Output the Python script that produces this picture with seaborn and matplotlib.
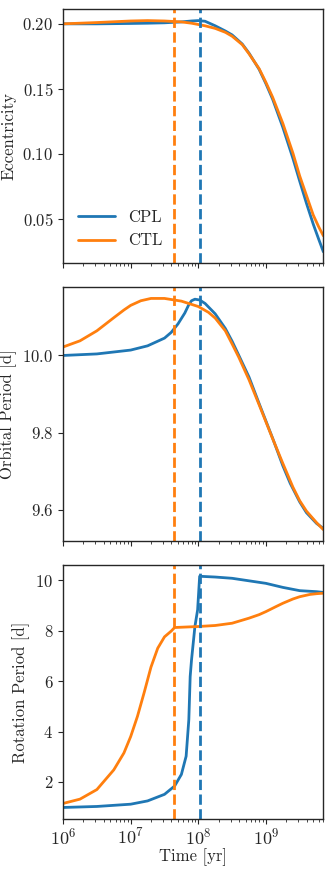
import numpy as np
import pandas as pd
import matplotlib
matplotlib.use("Agg")
import matplotlib.pyplot as plt
from matplotlib.ticker import MultipleLocator
import seaborn as sns

# ---- data (log10 of time in yr) ----
ecc_logt = [6.0, 6.5, 7.0, 7.25, 7.5, 7.75, 7.9, 8.0, 8.1, 8.25, 8.4, 8.5, 8.65,
            8.75, 8.9, 9.0, 9.1, 9.25, 9.4, 9.5, 9.6, 9.7, 9.78, 9.85]
ecc_cpl = [0.2000, 0.2000, 0.2003, 0.2005, 0.2008, 0.2015, 0.2022, 0.2025, 0.2020,
           0.1985, 0.1945, 0.1915, 0.1845, 0.1775, 0.1650, 0.1540, 0.1420, 0.1205,
           0.0965, 0.0790, 0.0620, 0.0460, 0.0345, 0.0247]
ecc_ctl = [0.2000, 0.2010, 0.2022, 0.2025, 0.2022, 0.2015, 0.2005, 0.1995, 0.1985,
           0.1965, 0.1935, 0.1905, 0.1840, 0.1770, 0.1655, 0.1550, 0.1435, 0.1235,
           0.1005, 0.0830, 0.0680, 0.0530, 0.0440, 0.0370]

porb_logt_cpl = [6.0, 6.5, 7.0, 7.25, 7.5, 7.6, 7.7, 7.8, 7.86, 7.9, 7.95, 8.02,
                 8.1, 8.25, 8.4, 8.5, 8.6, 8.75, 8.9, 9.0, 9.1, 9.17, 9.25, 9.36,
                 9.5, 9.6, 9.75, 9.85]
porb_cpl = [10.000, 10.004, 10.014, 10.025, 10.045, 10.060, 10.082, 10.110,
            10.132, 10.142, 10.146, 10.144, 10.135, 10.108, 10.070, 10.037,
            10.000, 9.944, 9.875, 9.830, 9.785, 9.752, 9.714, 9.668, 9.620,
            9.592, 9.564, 9.551]
porb_logt_ctl = [6.0, 6.25, 6.5, 6.75, 6.9, 7.0, 7.15, 7.3, 7.5, 7.75, 8.0, 8.15,
                 8.25, 8.4, 8.5, 8.6, 8.75, 8.9, 9.0, 9.1, 9.25, 9.4, 9.5, 9.6,
                 9.75, 9.85]
porb_ctl = [10.022, 10.038, 10.064, 10.098, 10.118, 10.130, 10.142, 10.148,
            10.148, 10.141, 10.127, 10.112, 10.097, 10.064, 10.030, 9.995,
            9.937, 9.872, 9.828, 9.784, 9.720, 9.658, 9.623, 9.596, 9.566, 9.548]

prot_logt_cpl = [6.0, 6.5, 7.0, 7.25, 7.5, 7.65, 7.75, 7.82, 7.86, 7.88, 7.9,
                 7.95, 7.99, 8.02, 8.25, 8.5, 8.75, 9.0, 9.25, 9.5, 9.75, 9.85]
prot_cpl = [0.99, 1.03, 1.12, 1.25, 1.51, 1.84, 2.30, 3.02, 4.47, 6.18, 6.84,
            8.16, 8.82, 10.15, 10.12, 10.07, 9.97, 9.87, 9.71, 9.58, 9.54, 9.51]
prot_logt_ctl = [6.0, 6.25, 6.5, 6.75, 6.9, 7.0, 7.1, 7.2, 7.3, 7.4, 7.5, 7.6,
                 7.65, 8.0, 8.25, 8.5, 8.75, 8.9, 9.0, 9.15, 9.25, 9.4, 9.5,
                 9.65, 9.75, 9.85]
prot_ctl = [1.15, 1.32, 1.70, 2.48, 3.15, 3.80, 4.60, 5.55, 6.55, 7.30, 7.75,
            7.98, 8.12, 8.16, 8.20, 8.29, 8.49, 8.63, 8.75, 8.95, 9.08, 9.25,
            9.34, 9.43, 9.46, 9.48]

t_lock_cpl = 1.05e8
t_lock_ctl = 4.4e7
models = ["CPL", "CTL"]
colors = {"CPL": "#1f77b4", "CTL": "#ff7f0e"}


def frame(logt_a, val_a, logt_b, val_b):
    a = pd.DataFrame({"t": 10.0 ** np.array(logt_a), "v": val_a, "model": "CPL"})
    b = pd.DataFrame({"t": 10.0 ** np.array(logt_b), "v": val_b, "model": "CTL"})
    return pd.concat([a, b], ignore_index=True)


sns.set_style("ticks")
plt.rcParams["font.family"] = ["cmr10", "DejaVu Serif"]
plt.rcParams["mathtext.fontset"] = "cm"
plt.rcParams["axes.formatter.use_mathtext"] = True
plt.rcParams["axes.unicode_minus"] = False
FS = 12

fig, axes = plt.subplots(3, 1, figsize=(3.32, 8.69), dpi=100, sharex=True)
fig.subplots_adjust(left=0.19, right=0.973, top=0.9896, bottom=0.0575, hspace=0.0925)

panels = [
    (frame(ecc_logt, ecc_cpl, ecc_logt, ecc_ctl), "Eccentricity", 0.05),
    (frame(porb_logt_cpl, porb_cpl, porb_logt_ctl, porb_ctl), "Orbital Period [d]", 0.2),
    (frame(prot_logt_cpl, prot_cpl, prot_logt_ctl, prot_ctl), "Rotation Period [d]", 2),
]

for i, (ax, (df, label, step)) in enumerate(zip(axes, panels)):
    sns.lineplot(data=df, x="t", y="v", hue="model", hue_order=models,
                 palette=colors, lw=2, ax=ax, legend=(i == 0), estimator=None,
                 sort=False)
    ax.axvline(t_lock_ctl, color=colors["CTL"], ls="--", lw=2)
    ax.axvline(t_lock_cpl, color=colors["CPL"], ls="--", lw=2)
    ax.set_xscale("log")
    ax.set_xlim(1e6, 7e9)
    ax.yaxis.set_major_locator(MultipleLocator(step))
    ax.set_ylabel(label, fontsize=FS)
    ax.set_xlabel("")
    ax.tick_params(axis="y", labelsize=FS)
    ax.tick_params(axis="x", labelsize=13, pad=2)
    for s in ax.spines.values():
        s.set_linewidth(1.0)

axes[0].legend(frameon=False, fontsize=FS, loc="lower left", handlelength=2.2,
               bbox_to_anchor=(0.0, 0.0))
axes[2].set_xlabel("Time [yr]", fontsize=FS, labelpad=1)

fig.savefig("out.png", dpi=100)
